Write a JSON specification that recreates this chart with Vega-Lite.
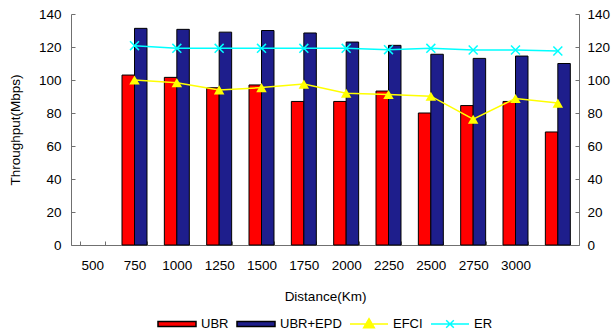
{
  "$schema": "https://vega.github.io/schema/vega-lite/v6.json",
  "width": 508,
  "height": 231,
  "autosize": {"type": "none"},
  "padding": {"left": 71, "top": 14, "right": 37, "bottom": 88},
  "config": {
    "view": {"stroke": null},
    "font": "Liberation Sans",
    "axis": {
      "grid": false,
      "domainColor": "#707070",
      "tickColor": "#707070",
      "labelFont": "Liberation Sans",
      "labelFontSize": 13.5,
      "labelColor": "#000000",
      "titleFont": "Liberation Sans",
      "titleFontSize": 13.5,
      "titleFontWeight": "normal",
      "titleColor": "#000000"
    }
  },
  "data": {
    "values": [
      {"Distance": "750", "series": "UBR", "value": 103},
      {"Distance": "1000", "series": "UBR", "value": 101.6},
      {"Distance": "1250", "series": "UBR", "value": 95.3},
      {"Distance": "1500", "series": "UBR", "value": 97},
      {"Distance": "1750", "series": "UBR", "value": 87},
      {"Distance": "2000", "series": "UBR", "value": 87},
      {"Distance": "2250", "series": "UBR", "value": 93.3},
      {"Distance": "2500", "series": "UBR", "value": 80},
      {"Distance": "2750", "series": "UBR", "value": 84.5},
      {"Distance": "3000", "series": "UBR", "value": 87},
      {"Distance": " ", "series": "UBR", "value": 68.5},
      {"Distance": "750", "series": "UBR+EPD", "value": 131.3},
      {"Distance": "1000", "series": "UBR+EPD", "value": 130.7},
      {"Distance": "1250", "series": "UBR+EPD", "value": 129},
      {"Distance": "1500", "series": "UBR+EPD", "value": 130},
      {"Distance": "1750", "series": "UBR+EPD", "value": 128.5},
      {"Distance": "2000", "series": "UBR+EPD", "value": 123},
      {"Distance": "2250", "series": "UBR+EPD", "value": 121},
      {"Distance": "2500", "series": "UBR+EPD", "value": 115.6},
      {"Distance": "2750", "series": "UBR+EPD", "value": 113.1},
      {"Distance": "3000", "series": "UBR+EPD", "value": 114.5},
      {"Distance": " ", "series": "UBR+EPD", "value": 110},
      {"Distance": "750", "series": "EFCI", "value": 100},
      {"Distance": "1000", "series": "EFCI", "value": 98.4},
      {"Distance": "1250", "series": "EFCI", "value": 94},
      {"Distance": "1500", "series": "EFCI", "value": 95.4},
      {"Distance": "1750", "series": "EFCI", "value": 97.5},
      {"Distance": "2000", "series": "EFCI", "value": 92},
      {"Distance": "2250", "series": "EFCI", "value": 91.2},
      {"Distance": "2500", "series": "EFCI", "value": 90.2},
      {"Distance": "2750", "series": "EFCI", "value": 76.2},
      {"Distance": "3000", "series": "EFCI", "value": 88.8},
      {"Distance": " ", "series": "EFCI", "value": 86},
      {"Distance": "750", "series": "ER", "value": 120.8},
      {"Distance": "1000", "series": "ER", "value": 119.2},
      {"Distance": "1250", "series": "ER", "value": 119.2},
      {"Distance": "1500", "series": "ER", "value": 119.2},
      {"Distance": "1750", "series": "ER", "value": 119.2},
      {"Distance": "2000", "series": "ER", "value": 119.2},
      {"Distance": "2250", "series": "ER", "value": 118.4},
      {"Distance": "2500", "series": "ER", "value": 119.2},
      {"Distance": "2750", "series": "ER", "value": 118.2},
      {"Distance": "3000", "series": "ER", "value": 118.2},
      {"Distance": " ", "series": "ER", "value": 117.6}
    ]
  },
  "encoding": {
    "x": {
      "field": "Distance",
      "type": "ordinal",
      "scale": {
        "domain": ["500", "750", "1000", "1250", "1500", "1750", "2000", "2250", "2500", "2750", "3000", " "],
        "paddingInner": 0.41,
        "paddingOuter": 0.205
      },
      "axis": {
        "title": "Distance(Km)",
        "labelAngle": 0,
        "tickBand": "extent",
        "tickSize": -4,
        "labelPadding": 17,
        "titlePadding": 18
      }
    }
  },
  "layer": [
    {
      "transform": [{"filter": "datum.series == 'UBR' || datum.series == 'UBR+EPD'"}],
      "mark": {"type": "bar", "stroke": "#000000", "strokeWidth": 1},
      "encoding": {
        "xOffset": {"field": "series", "type": "nominal", "scale": {"domain": ["UBR", "UBR+EPD"]}},
        "y": {
          "field": "value",
          "type": "quantitative",
          "scale": {"domain": [0, 140]},
          "axis": {"orient": "left", "title": "Throughput(Mbps)", "values": [0, 20, 40, 60, 80, 100, 120, 140], "tickSize": -4, "labelPadding": 14, "titlePadding": 16}
        },
        "color": {
          "field": "series",
          "type": "nominal",
          "scale": {"domain": ["UBR", "UBR+EPD", "EFCI", "ER"], "range": ["#ff0000", "#1e1e8c", "#ffff00", "#00ffff"]},
          "legend": {
            "orient": "none",
            "legendX": 86,
            "legendY": 290,
            "direction": "horizontal",
            "title": null,
            "symbolSize": 1444,
            "symbolStrokeWidth": 1.5,
            "symbolType": {"expr": "datum.value == 'EFCI' ? 'M-1,0H1M0,-0.28L0.28,0.2L-0.28,0.2Z' : datum.value == 'ER' ? 'M-1,0H1M-0.2,-0.2L0.2,0.2M-0.2,0.2L0.2,-0.2' : 'M-1,-0.13H1V0.13H-1Z'"},
            "symbolStrokeColor": {"expr": "datum.value == 'EFCI' ? '#ffff00' : datum.value == 'ER' ? '#00ffff' : '#000000'"},
            "labelFont": "Liberation Sans",
            "labelFontSize": 13,
            "labelColor": "#000000",
            "labelOffset": 4,
            "columnPadding": 5,
            "padding": 0
          }
        }
      }
    },
    {
      "encoding": {
        "y": {
          "field": "value",
          "type": "quantitative",
          "scale": {"domain": [0, 140]},
          "axis": {"orient": "right", "title": null, "values": [0, 20, 40, 60, 80, 100, 120, 140], "tickSize": -4, "labelPadding": 12}
        }
      },
      "layer": [
        {
          "transform": [{"filter": "datum.series == 'EFCI'"}],
          "mark": {"type": "line", "color": "#ffff00", "strokeWidth": 1.5, "point": {"filled": true, "shape": "triangle-up", "size": 110, "color": "#ffff00"}}
        },
        {
          "transform": [{"filter": "datum.series == 'ER'"}],
          "mark": {"type": "line", "color": "#00ffff", "strokeWidth": 1.5, "point": {"filled": false, "shape": "M-1,-1L1,1M-1,1L1,-1", "size": 80, "color": "#00ffff", "strokeWidth": 1.5}}
        }
      ]
    }
  ],
  "resolve": {"scale": {"y": "independent"}}
}
